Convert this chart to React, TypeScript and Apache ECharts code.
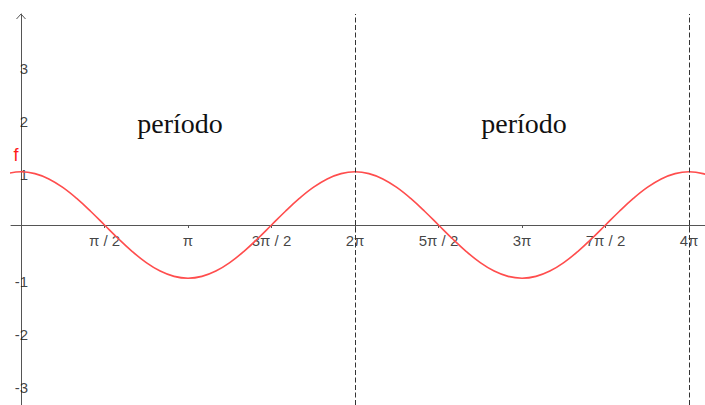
import React, { useEffect, useRef } from "react";
import * as echarts from "echarts";

// Curve samples: x in steps of π/12 (index k), y values
const sampleIndex = [
  -1, 0, 1, 2, 3, 4, 5, 6, 7, 8, 9, 10, 11, 12, 13, 14, 15, 16, 17, 18, 19, 20,
  21, 22, 23, 24, 25, 26, 27, 28, 29, 30, 31, 32, 33, 34, 35, 36, 37, 38, 39,
  40, 41, 42, 43, 44, 45, 46, 47, 48, 49, 50,
];
const sampleValues = [
  0.966, 1, 0.966, 0.866, 0.707, 0.5, 0.259, 0, -0.259, -0.5, -0.707, -0.866,
  -0.966, -1, -0.966, -0.866, -0.707, -0.5, -0.259, 0, 0.259, 0.5, 0.707, 0.866,
  0.966, 1, 0.966, 0.866, 0.707, 0.5, 0.259, 0, -0.259, -0.5, -0.707, -0.866,
  -0.966, -1, -0.966, -0.866, -0.707, -0.5, -0.259, 0, 0.259, 0.5, 0.707, 0.866,
  0.966, 1, 0.966, 0.866,
];

// x tick positions in units of π/2 and their labels
const xTickHalfPi = [1, 2, 3, 4, 5, 6, 7, 8];
const xTickLabels = ["π / 2", "π", "3π / 2", "2π", "5π / 2", "3π", "7π / 2", "4π"];
const yTicks = [-3, -2, -1, 1, 2, 3];
const yTickLabels = ["-3", "-2", "-1", "1", "2", "3"];

// dashed period markers (multiples of π)
const periodMarksPi = [2, 4];
const periodText = "período";
const functionName = "f";

const PI = Math.PI;

export default function App() {
  const ref = useRef<HTMLDivElement>(null);

  useEffect(() => {
    if (!ref.current) return;
    const chart = echarts.init(ref.current, null, { renderer: "svg" });

    const xMin = -10 / 53.16;
    const xMax = 684 / 53.16;
    const yMax = 211 / 53.2;
    const yMin = -180 / 53.2;

    const xTickValues = xTickHalfPi.map((k) => (k * PI) / 2);
    const data = sampleIndex.map((k, i) => [(k * PI) / 12, sampleValues[i]]);

    const labelFont = {
      fontFamily: "Liberation Sans, Arial, sans-serif",
      fontSize: 15,
      color: "#111",
      textBorderWidth: 0,
    };

    chart.setOption({
      animation: false,
      backgroundColor: "#ffffff",
      grid: {
        left: 11,
        right: 0,
        top: 14,
        bottom: 0,
        containLabel: false,
        outerBoundsMode: "none",
      },
      xAxis: {
        type: "value",
        min: xMin,
        max: xMax,
        splitLine: { show: false },
        axisLine: { show: true, onZero: true, lineStyle: { color: "#555", width: 1 } },
        axisTick: {
          show: true,
          length: 3,
          inside: false,
          customValues: xTickValues,
          lineStyle: { color: "#555" },
        },
        axisLabel: { show: false },
      },
      yAxis: {
        type: "value",
        min: yMin,
        max: yMax,
        splitLine: { show: false },
        axisLine: { show: true, onZero: true, lineStyle: { color: "#555", width: 1 } },
        axisTick: { show: false },
        axisLabel: { show: false },
      },
      series: [
        {
          type: "line",
          data,
          smooth: 0.4,
          showSymbol: false,
          clip: true,
          lineStyle: { color: "#ff4d4d", width: 1.6 },
          silent: true,
          z: 3,
          markLine: {
            silent: true,
            symbol: ["none", "none"],
            label: { show: false },
            lineStyle: { color: "#333", type: [5, 2.5], width: 1 },
            data: periodMarksPi.map((m) => ({ xAxis: m * PI })),
          },
        },
        {
          type: "scatter",
          symbolSize: 0,
          silent: true,
          data: xTickValues.map((v, i) => ({ value: [v, 0], name: xTickLabels[i] })),
          label: {
            show: true,
            position: "inside",
            align: "center",
            verticalAlign: "top",
            offset: [0, 8],
            formatter: (p: any) => p.name,
            ...labelFont,
          },
        },
        {
          type: "scatter",
          symbolSize: 0,
          silent: true,
          data: yTicks.map((v, i) => ({ value: [0, v], name: yTickLabels[i] })),
          label: {
            show: true,
            position: "inside",
            align: "right",
            verticalAlign: "middle",
            offset: [7, 3],
            formatter: (p: any) => p.name,
            ...labelFont,
          },
        },
      ],
    });

    const origin = chart.convertToPixel({ gridIndex: 0 }, [0, yMax]) as number[];
    const ax = origin[0];
    const ay = origin[1];

    chart.setOption({
      graphic: [
        {
          type: "polyline",
          shape: { points: [[ax - 4.5, ay + 5], [ax, ay], [ax + 4.5, ay + 5]] },
          style: { stroke: "#555", lineWidth: 1, fill: "none" },
          silent: true,
        },
        {
          type: "text",
          x: 180,
          y: 123,
          style: {
            text: periodText,
            fontFamily: "Liberation Serif, Times New Roman, serif",
            fontSize: 28,
            fill: "#111",
            align: "center",
            verticalAlign: "middle",
          },
        },
        {
          type: "text",
          x: 524,
          y: 123,
          style: {
            text: periodText,
            fontFamily: "Liberation Serif, Times New Roman, serif",
            fontSize: 28,
            fill: "#111",
            align: "center",
            verticalAlign: "middle",
          },
        },
        {
          type: "text",
          x: 16,
          y: 155,
          style: {
            text: functionName,
            fontFamily: "Liberation Sans, Arial, sans-serif",
            fontSize: 18,
            fill: "#ff1a1a",
            align: "center",
            verticalAlign: "middle",
          },
        },
      ],
    });

    return () => chart.dispose();
  }, []);

  return (
    <div
      ref={ref}
      style={{ position: "fixed", left: 0, top: 0, width: 705, height: 405, background: "#fff" }}
    />
  );
}
